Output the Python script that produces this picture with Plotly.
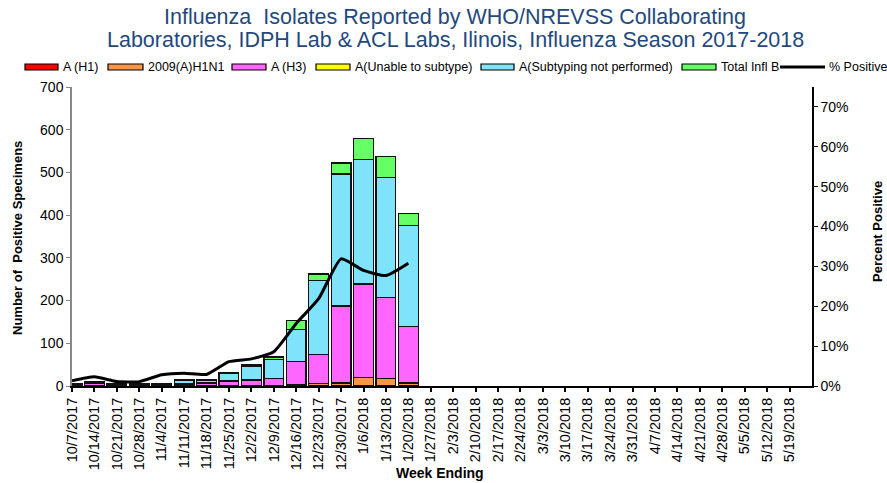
import plotly.graph_objects as go

weeks = ["10/7/2017", "10/14/2017", "10/21/2017", "10/28/2017", "11/4/2017", "11/11/2017",
         "11/18/2017", "11/25/2017", "12/2/2017", "12/9/2017", "12/16/2017", "12/23/2017",
         "12/30/2017", "1/6/2018", "1/13/2018", "1/20/2018", "1/27/2018", "2/3/2018",
         "2/10/2018", "2/17/2018", "2/24/2018", "3/3/2018", "3/10/2018", "3/17/2018",
         "3/24/2018", "3/31/2018", "4/7/2018", "4/14/2018", "4/21/2018", "4/28/2018",
         "5/5/2018", "5/12/2018", "5/19/2018"]

N = None
a_h1 =       [0, 0, 0, 0, 0, 0, 0, 0, 1, 1, 1, 2, 1, 1, 1, 2] + [N] * 17
h1n1_2009 =  [0, 0, 0, 0, 0, 0, 1, 1, 1, 1, 2, 4, 6, 19, 17, 5] + [N] * 17
a_h3 =       [2, 6, 2, 2, 2, 5, 6, 11, 12, 16, 54, 67, 180, 219, 189, 132] + [N] * 17
a_unable =   [0, 0, 0, 0, 0, 0, 0, 0, 0, 0, 0, 0, 0, 0, 0, 0] + [N] * 17
a_notsub =   [2, 3, 2, 2, 3, 8, 7, 17, 33, 44, 76, 174, 309, 292, 281, 236] + [N] * 17
infl_b =     [1, 1, 1, 1, 1, 2, 2, 2, 4, 6, 20, 15, 26, 49, 49, 29] + [N] * 17
pct_pos =    [0.013, 0.023, 0.011, 0.011, 0.028, 0.032, 0.029, 0.061, 0.068, 0.086,
              0.157, 0.219, 0.319, 0.290, 0.277, 0.308] + [N] * 17

series = [
    ("A (H1)", a_h1, "#FF0000"),
    ("2009(A)H1N1", h1n1_2009, "#F79646"),
    ("A (H3)", a_h3, "#FF66FF"),
    ("A(Unable to subtype)", a_unable, "#FFFF00"),
    ("A(Subtyping not performed)", a_notsub, "#7FE3FB"),
    ("Total Infl B", infl_b, "#66FF66"),
]

xs = list(range(len(weeks)))
fig = go.Figure()
for name, vals, col in series:
    fig.add_trace(go.Bar(x=xs, y=vals, name=name, marker=dict(color=col, line=dict(color="#111111", width=1.3)),
                         width=0.88, showlegend=False))
fig.add_trace(go.Scatter(x=xs, y=pct_pos, yaxis="y2", mode="lines", name="% Positive",
                         line=dict(color="black", width=3, shape="spline", smoothing=0.5),
                         showlegend=False))

L, R, T, B = 72, 812, 87, 386
W, H = 887, 483


def px(x):
    return (x - L) / (R - L)


def py(y):
    return (B - y) / (B - T)


shapes = []
annotations = []
# Legend (manual)
leg = [("A (H1)", "#FF0000", 25, 58), ("2009(A)H1N1", "#F79646", 108, 143), ("A (H3)", "#FF66FF", 232, 266),
       ("A(Unable to subtype)", "#FFFF00", 316, 350), ("A(Subtyping not performed)", "#7FE3FB", 481, 514),
       ("Total Infl B", "#66FF66", 682, 716)]
for name, col, x0, x1 in leg:
    shapes.append(dict(type="rect", xref="paper", yref="paper", x0=px(x0), x1=px(x1), y0=py(70), y1=py(64),
                       fillcolor=col, line=dict(color="black", width=1.2)))
    annotations.append(dict(text=name, xref="paper", yref="paper", x=px(x1 + 3), y=py(67), xanchor="left",
                            yanchor="middle", showarrow=False, font=dict(size=12.5, color="black")))
shapes.append(dict(type="line", xref="paper", yref="paper", x0=px(780), x1=px(825), y0=py(67), y1=py(67),
                   line=dict(color="black", width=3)))
annotations.append(dict(text="% Positive", xref="paper", yref="paper", x=px(827), y=py(67), xanchor="left",
                        yanchor="middle", showarrow=False, font=dict(size=12.5, color="black")))

# Title
tcol = "#1F497D"
annotations.append(dict(text="Influenza  Isolates Reported by WHO/NREVSS Collaborating", xref="paper", yref="paper",
                        x=px(455), y=py(17), xanchor="center", yanchor="middle", showarrow=False,
                        font=dict(size=21.5, color=tcol)))
annotations.append(dict(text="Laboratories, IDPH Lab & ACL Labs, Ilinois, Influenza Season 2017-2018", xref="paper",
                        yref="paper", x=px(455), y=py(40), xanchor="center", yanchor="middle", showarrow=False,
                        font=dict(size=21.5, color=tcol)))

# Axis titles
annotations.append(dict(text="<b>Number of  Positive Specimens</b>", xref="paper", yref="paper", x=px(17), y=py(238),
                        xanchor="center", yanchor="middle", textangle=-90, showarrow=False,
                        font=dict(size=13, color="black")))
annotations.append(dict(text="<b>Percent Positive</b>", xref="paper", yref="paper", x=px(877), y=py(232),
                        xanchor="center", yanchor="middle", textangle=-90, showarrow=False,
                        font=dict(size=13, color="black")))
annotations.append(dict(text="<b>Week Ending</b>", xref="paper", yref="paper", x=px(440), y=py(473),
                        xanchor="center", yanchor="middle", showarrow=False, font=dict(size=14, color="black")))

fig.update_layout(
    width=W, height=H, autosize=False,
    margin=dict(l=L, r=W - R, t=T, b=H - B, pad=0),
    paper_bgcolor="white", plot_bgcolor="white",
    font=dict(family="Liberation Sans, Arial, sans-serif", color="black"),
    barmode="stack", bargap=0.1,
    shapes=shapes, annotations=annotations,
    xaxis=dict(range=[0, 33], tickmode="array", tickvals=xs, ticktext=weeks, tickangle=-90,
               ticks="outside", ticklen=4, tickwidth=2, tickcolor="black", showline=True, linecolor="black",
               linewidth=2, showgrid=False, zeroline=False, automargin=False,
               tickfont=dict(size=14.5, color="black")),
    yaxis=dict(range=[0, 700], dtick=100, ticks="outside", ticklen=4, tickcolor="#888888", showline=True,
               linecolor="#888888", linewidth=1.5, showgrid=False, zeroline=False, automargin=False,
               tickfont=dict(size=14, color="black")),
    yaxis2=dict(range=[0, 0.75], tickvals=[0, 0.1, 0.2, 0.3, 0.4, 0.5, 0.6, 0.7], tickformat=".0%",
                overlaying="y", side="right", ticks="outside", ticklen=4, tickcolor="black", showline=True,
                linecolor="black", linewidth=1.5, showgrid=False, zeroline=False, automargin=False,
                tickfont=dict(size=14, color="black")),
)

fig.write_html("out.html", config={"displayModeBar": False},
               post_script="document.body.style.margin='0';document.body.style.overflow='hidden';")
